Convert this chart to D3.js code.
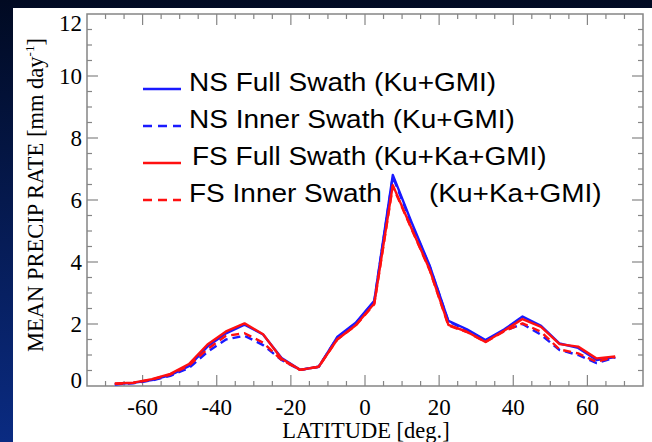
<!DOCTYPE html>
<html>
<head>
<meta charset="utf-8">
<script src="https://cdn.jsdelivr.net/npm/d3@7"></script>
<style>
  html, body { margin: 0; padding: 0; background: #000; }
  svg { display: block; }
  .tick-lab { font-family: "Liberation Serif", "Times New Roman", serif; font-size: 23px; fill: #000; }
  .ax-title { font-family: "Liberation Serif", "Times New Roman", serif; font-size: 22.5px; fill: #000; }
  .leg { font-family: "Liberation Sans", Arial, sans-serif; font-size: 25px; fill: #000; }
</style>
</head>
<body>
<svg id="chart" width="652" height="442"></svg>
<script>
  // latitude bin centres [deg]
  var lats = [-67.5, -62.5, -57.5, -52.5, -47.5, -42.5, -37.5, -32.5, -27.5, -22.5,
    -17.5, -12.5, -7.5, -2.5, 2.5, 7.5, 12.5, 17.5, 22.5, 27.5,
    32.5, 37.5, 42.5, 47.5, 52.5, 57.5, 62.5, 67.5];

  // mean precip rate [mm/day]
  var nsFull = [0.06, 0.10, 0.19, 0.35, 0.64, 1.27, 1.70, 1.98, 1.66, 0.90,
    0.52, 0.62, 1.58, 2.04, 2.75, 6.81, 5.30, 3.87, 2.10, 1.83,
    1.48, 1.82, 2.24, 1.94, 1.37, 1.23, 0.84, 0.93];
  var nsInner = [0.05, 0.09, 0.18, 0.33, 0.58, 1.10, 1.50, 1.62, 1.32, 0.84,
    0.52, 0.62, 1.56, 2.02, 2.72, 6.75, 5.25, 3.84, 2.08, 1.80,
    1.46, 1.78, 2.00, 1.65, 1.16, 1.00, 0.74, 0.92];
  var fsFull = [0.08, 0.11, 0.22, 0.39, 0.71, 1.34, 1.76, 2.02, 1.67, 0.88,
    0.52, 0.62, 1.50, 1.96, 2.66, 6.48, 5.10, 3.74, 1.97, 1.75,
    1.42, 1.78, 2.16, 1.91, 1.35, 1.27, 0.89, 0.95];
  var fsInner = [0.07, 0.10, 0.21, 0.37, 0.66, 1.19, 1.62, 1.70, 1.40, 0.84,
    0.52, 0.62, 1.50, 1.95, 2.64, 6.44, 5.08, 3.72, 1.95, 1.74,
    1.42, 1.76, 2.02, 1.75, 1.18, 1.05, 0.78, 0.94];

  var xTicks = [-60, -40, -20, 0, 20, 40, 60];
  var yTicks = [0, 2, 4, 6, 8, 10, 12];

  var legendLabels = [
    ["NS Full Swath (Ku+GMI)"],
    ["NS Inner Swath (Ku+GMI)"],
    ["FS Full Swath (Ku+Ka+GMI)"],
    ["FS Inner Swath", "(Ku+Ka+GMI)"]
  ];

  var series = [
    {name: "nsFull", values: nsFull, color: "#1a1aff", dash: null},
    {name: "nsInner", values: nsInner, color: "#1a1aff", dash: "8,5"},
    {name: "fsFull", values: fsFull, color: "#ff1010", dash: null},
    {name: "fsInner", values: fsInner, color: "#ff1010", dash: "8,5"}
  ];

  (function() {
    var svg = d3.select("#chart");

    // slide background + white panel
    var defs = svg.append("defs");
    var grad = defs.append("linearGradient").attr("id", "bg")
      .attr("x1", 0).attr("y1", 0).attr("x2", 0).attr("y2", 1);
    grad.append("stop").attr("offset", "0%").attr("stop-color", "#010a22");
    grad.append("stop").attr("offset", "100%").attr("stop-color", "#0a2b82");
    svg.append("rect").attr("width", 652).attr("height", 442).attr("fill", "url(#bg)");
    svg.append("rect").attr("x", 13).attr("y", 8).attr("width", 639).attr("height", 434).attr("fill", "#fff");

    var pLeft = 87, pRight = 643, pTop = 14, pBottom = 386;

    var x = d3.scaleLinear().domain([-75, 75]).range([pLeft, pRight]);
    var y = d3.scaleLinear().domain([0, 12]).range([pBottom, pTop]);

    var axColor = "#858585";

    // frame ticks, IDL style on all four sides
    var g = svg.append("g");
    var xMinor = d3.range(-75, 76, 5);
    var yMinor = d3.range(0, 12.01, 0.5);

    function isMajorX(v) { return xTicks.indexOf(v) !== -1; }
    function isMajorY(v) { return Math.abs(v - Math.round(v / 2) * 2) < 1e-6; }

    xMinor.forEach(function(v) {
      if (v === -75 || v === 75) return;
      var len = isMajorX(v) ? 11 : 5;
      g.append("line").attr("x1", x(v)).attr("x2", x(v)).attr("y1", pBottom).attr("y2", pBottom - len)
        .attr("stroke", axColor).attr("stroke-width", 1.2);
      g.append("line").attr("x1", x(v)).attr("x2", x(v)).attr("y1", pTop).attr("y2", pTop + len)
        .attr("stroke", axColor).attr("stroke-width", 1.2);
    });
    yMinor.forEach(function(v) {
      if (v === 0 || v === 12) return;
      var len = isMajorY(v) ? 11 : 5;
      g.append("line").attr("y1", y(v)).attr("y2", y(v)).attr("x1", pLeft).attr("x2", pLeft + len)
        .attr("stroke", axColor).attr("stroke-width", 1.2);
      g.append("line").attr("y1", y(v)).attr("y2", y(v)).attr("x1", pRight).attr("x2", pRight - len)
        .attr("stroke", axColor).attr("stroke-width", 1.2);
    });

    g.append("rect").attr("x", pLeft).attr("y", pTop)
      .attr("width", pRight - pLeft).attr("height", pBottom - pTop)
      .attr("fill", "none").attr("stroke", axColor).attr("stroke-width", 1.5);

    // tick labels
    svg.selectAll(".xlab").data(xTicks).enter().append("text")
      .attr("class", "tick-lab")
      .attr("x", function(d) { return x(d); })
      .attr("y", 415)
      .attr("text-anchor", "middle")
      .text(function(d) { return d; });

    svg.selectAll(".ylab").data(yTicks).enter().append("text")
      .attr("class", "tick-lab")
      .attr("x", 82)
      .attr("y", function(d) {
        var off = 0;
        if (d === 12) off = 9;   // IDL pushes the end labels inward
        if (d === 0) off = -6;
        return y(d) + off;
      })
      .attr("dy", "0.34em")
      .attr("text-anchor", "end")
      .text(function(d) { return d; });

    // axis titles
    svg.append("text").attr("class", "ax-title")
      .attr("x", 366).attr("y", 438).attr("text-anchor", "middle")
      .text("LATITUDE [deg.]");

    var yt = svg.append("text").attr("class", "ax-title")
      .attr("transform", "translate(43,195) rotate(-90)")
      .attr("text-anchor", "middle");
    yt.append("tspan").text("MEAN PRECIP RATE [mm day");
    yt.append("tspan").attr("font-size", "13px").attr("dy", "-9").text("-1");
    yt.append("tspan").attr("dy", "9").text("]");

    // lines
    var line = d3.line()
      .x(function(d, i) { return x(lats[i]); })
      .y(function(d) { return y(d); });

    svg.selectAll(".series").data(series).enter().append("path")
      .attr("class", "series")
      .attr("d", function(s) { return line(s.values); })
      .attr("fill", "none")
      .attr("stroke", function(s) { return s.color; })
      .attr("stroke-width", 2.4)
      .attr("stroke-linejoin", "round")
      .attr("stroke-dasharray", function(s) { return s.dash; });

    // legend
    var legY = [91, 128, 165, 202];
    var legX = [189, 189, 192, 189];
    var leg = svg.append("g");
    series.forEach(function(s, i) {
      leg.append("line")
        .attr("x1", 143).attr("x2", 181)
        .attr("y1", legY[i] - 2).attr("y2", legY[i] - 2)
        .attr("stroke", s.color).attr("stroke-width", 2.4)
        .attr("stroke-dasharray", s.dash ? "9,6" : null);
      var parts = legendLabels[i];
      leg.append("text").attr("class", "leg")
        .attr("transform", "translate(" + legX[i] + "," + legY[i] + ") scale(1.12,1)")
        .text(parts[0]);
      if (parts[1]) {
        leg.append("text").attr("class", "leg")
          .attr("transform", "translate(429," + legY[i] + ") scale(1.12,1)")
          .text(parts[1]);
      }
    });
  })();
</script>
</body>
</html>
